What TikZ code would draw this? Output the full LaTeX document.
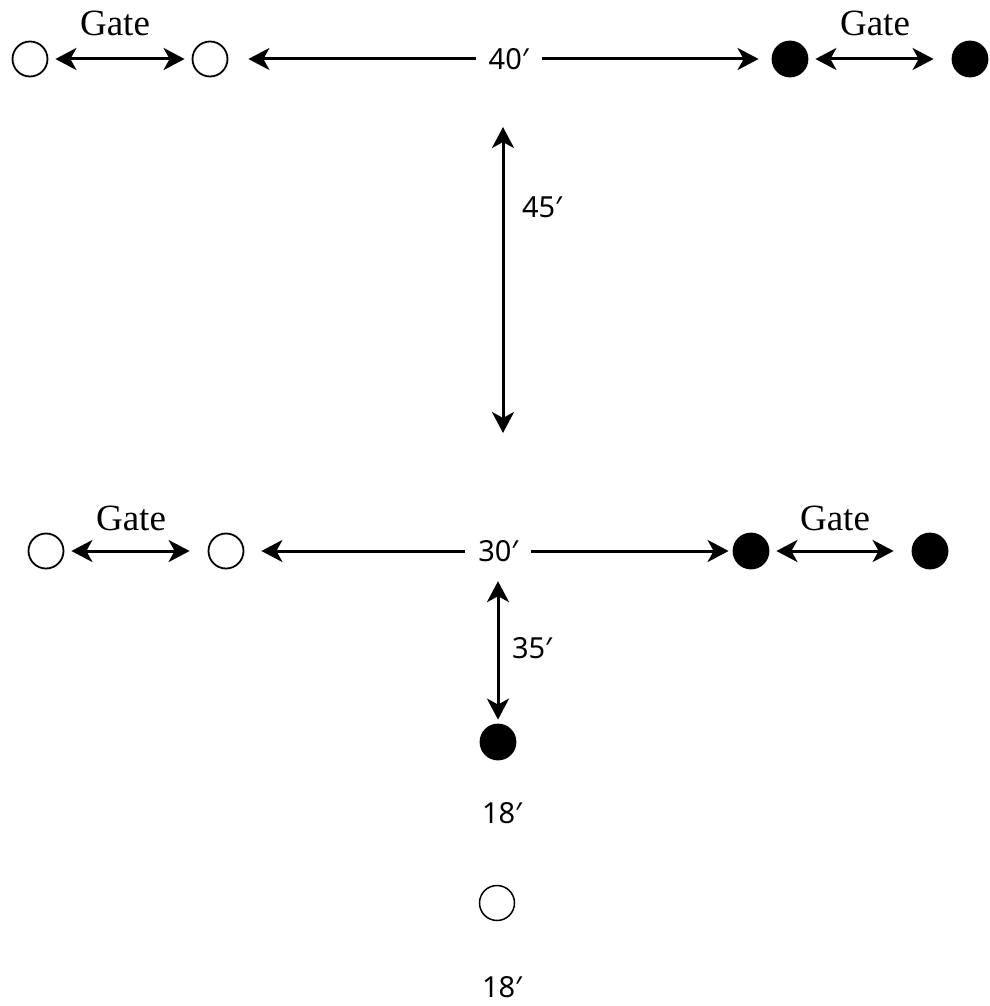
\documentclass[tikz,border=0pt]{standalone}
\usepackage{fontspec}
\setmainfont{Liberation Serif}
\newfontfamily\dimfont{Noto Sans}
\usetikzlibrary{arrows.meta}

\begin{document}
\begin{tikzpicture}[x=1pt,y=-1pt,
  cone/.style={circle, draw=black, line width=1.8pt, fill=white, minimum size=35pt, inner sep=0pt},
  ball/.style={cone, fill=black},
  span/.style={{Stealth[length=21pt,width=22pt,inset=6pt]}-{Stealth[length=21pt,width=22pt,inset=6pt]},
               draw=black, line width=3pt},
  gatelbl/.style={font=\fontsize{37}{37}\selectfont, inner sep=0pt},
  dimlbl/.style={font=\dimfont\fontsize{29}{29}\selectfont, inner sep=0pt},
  gap/.style={dimlbl, fill=white, inner xsep=13pt, inner ysep=4pt}]

  \useasboundingbox (0,0) rectangle (989,1006);

  % top row
  \node[cone] (tA) at (30,59) {};
  \node[cone] (tB) at (210,59) {};
  \node[ball] (tC) at (790,59) {};
  \node[ball] (tD) at (970,59) {};
  \node[gatelbl, anchor=base] (tgL) at (115,36) {Gate};
  \node[gatelbl, anchor=base] (tgR) at (875,36) {Gate};

  \draw[span, shorten <=7pt, shorten >=7pt] (tA) -- (tB);
  \draw[span, shorten <=20pt, shorten >=13pt] (tB) -- node[gap, pos=0.516] (t40) {40′} (tC);
  \draw[span, shorten <=7pt, shorten >=18pt] (tC) -- (tD);

  % depth between the rows
  \coordinate (d45a) at (503,127);
  \coordinate (d45b) at (503,433);
  \draw[span] (d45a) -- (d45b);
  \node[dimlbl] (l45) at (542,207) {45′};

  % bottom row
  \node[cone] (bA) at (46,551) {};
  \node[cone] (bB) at (226,551) {};
  \node[ball] (bC) at (751,551) {};
  \node[ball] (bD) at (930,551) {};
  \node[gatelbl, anchor=base] (bgL) at (131,530) {Gate};
  \node[gatelbl, anchor=base] (bgR) at (835,530) {Gate};

  \draw[span, shorten <=7pt, shorten >=18pt] (bA) -- (bB);
  \draw[span, shorten <=17pt, shorten >=4pt] (bB) -- node[gap, pos=0.52] (b30) {30′} (bC);
  \draw[span, shorten <=7pt, shorten >=18pt] (bC) -- (bD);

  % line of cones going back
  \node[ball] (p1) at (498,742) {};
  \node[dimlbl] (l18a) at (502,813) {18′};
  \node[cone, line width=1.5pt] (p2) at (497,903) {};
  \node[dimlbl] (l18b) at (502,987) {18′};
  \node[dimlbl] (l35) at (532,648) {35′};

  \draw[span, shorten <=14pt, shorten >=4pt] (b30.south -| p1) -- (p1);
\end{tikzpicture}
\end{document}
